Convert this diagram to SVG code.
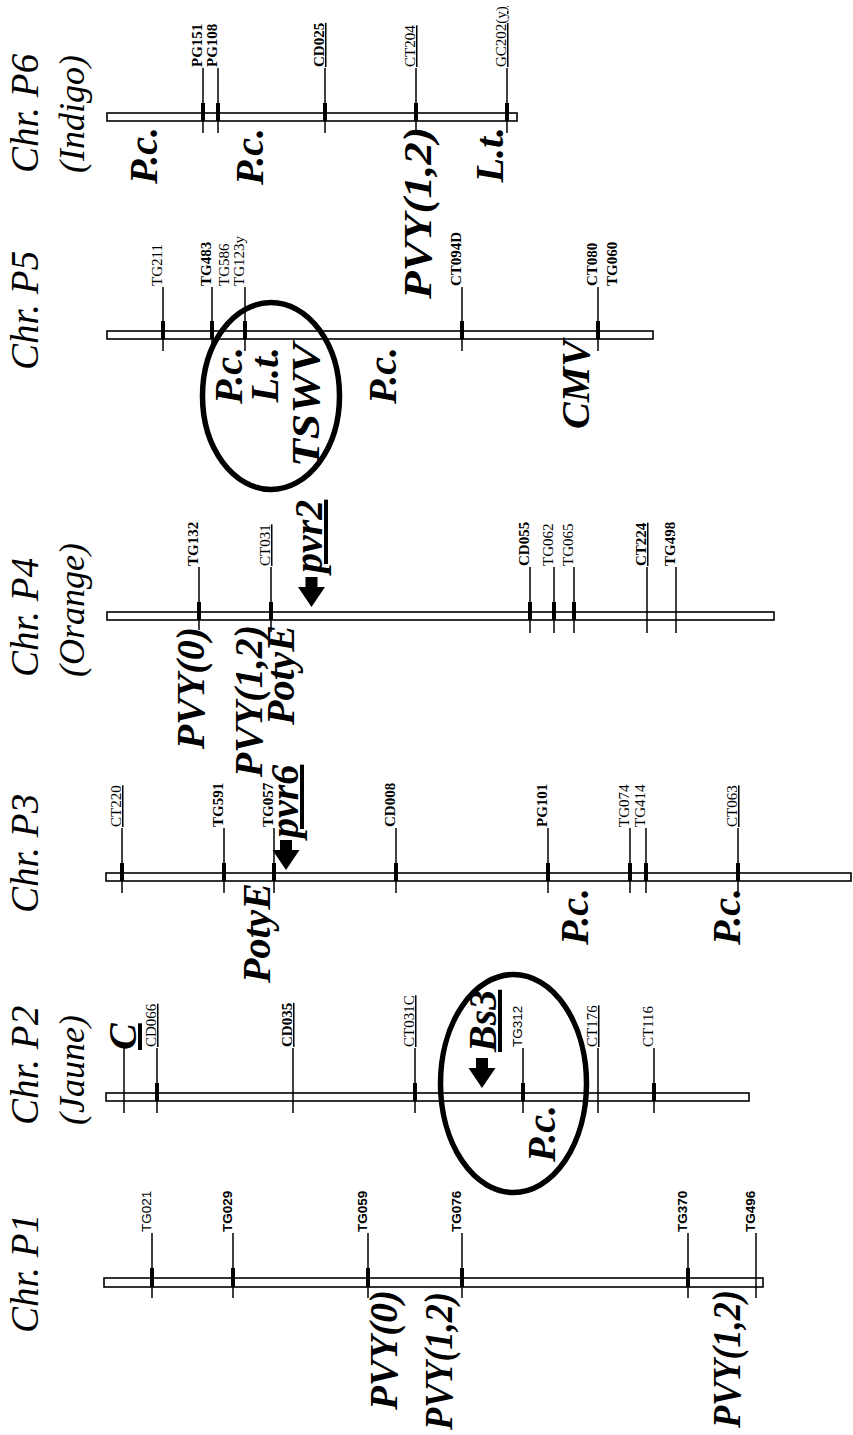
<svg xmlns="http://www.w3.org/2000/svg" width="853" height="1435" viewBox="0 0 853 1435">
<style>
.bar{fill:#fff;stroke:#000;stroke-width:1.6}
.tk{stroke:#000;stroke-width:1.5;fill:none}
.th{stroke:#000;stroke-width:4;fill:none}
.ml{font-family:"Liberation Serif",serif;font-size:15px;fill:#000}
.sn{font-family:"Liberation Sans",sans-serif;font-size:13.5px;fill:#000}
.b{font-weight:bold}
.u{text-decoration:underline}
.ttl{font-family:"Liberation Serif",serif;font-style:italic;font-size:39px;fill:#000}
.ttl2{font-family:"Liberation Serif",serif;font-style:italic;font-size:36px;fill:#000}
.dz{font-family:"Liberation Serif",serif;font-style:italic;font-weight:bold;font-size:40px;fill:#000}
.ell{fill:none;stroke:#000;stroke-width:5.5}
</style>
<defs>
<path id="arr" d="M-6,-30 H6 V-20 H13.5 L0,0 L-13.5,-20 H-6 Z" fill="#000"/>
</defs>
<rect width="853" height="1435" fill="#fff"/>

<!-- Chr P6 -->
<g id="chrP6">
<text class="ttl" transform="translate(38,173) rotate(-90)">Chr. P6</text>
<text class="ttl2" transform="translate(84,173) rotate(-90)">(Indigo)</text>
<rect class="bar" x="107" y="113" width="410" height="8"/>
<g id="p6-markers">
<line class="tk" x1="203" y1="68" x2="203" y2="133"/><line class="th" x1="203" y1="103" x2="203" y2="121"/>
<text class="ml b" transform="translate(202,67) rotate(-90)">PG151</text>
<line class="tk" x1="218" y1="68" x2="218" y2="133"/><line class="th" x1="218" y1="103" x2="218" y2="121"/>
<text class="ml b" transform="translate(217,67) rotate(-90)">PG108</text>
<line class="tk" x1="325" y1="68" x2="325" y2="133"/><line class="th" x1="325" y1="103" x2="325" y2="121"/>
<text class="ml b u" transform="translate(324,67) rotate(-90)">CD025</text>
<line class="tk" x1="416" y1="68" x2="416" y2="133"/><line class="th" x1="416" y1="103" x2="416" y2="121"/>
<text class="ml u" transform="translate(415,67) rotate(-90)">CT204</text>
<line class="tk" x1="507" y1="68" x2="507" y2="133"/><line class="th" x1="507" y1="103" x2="507" y2="121"/>
<text class="ml u" transform="translate(506,67) rotate(-90)">GC202(y)</text>
</g>
<text class="dz" text-anchor="end" transform="translate(157,127) rotate(-90)">P.c.</text>
<text class="dz" text-anchor="end" transform="translate(263,128) rotate(-90)">P.c.</text>
<text class="dz" text-anchor="end" font-size="42" textLength="172" lengthAdjust="spacingAndGlyphs" transform="translate(431,127) rotate(-90)">PVY(1,2)</text>
<text class="dz" text-anchor="end" transform="translate(503,127) rotate(-90)">L.t.</text>
</g>

<!-- Chr P5 -->
<g id="chrP5">
<text class="ttl" transform="translate(38,370) rotate(-90)">Chr. P5</text>
<rect class="bar" x="107" y="331" width="546" height="8"/>
<g id="p5-markers">
<line class="tk" x1="163" y1="287" x2="163" y2="351"/><line class="th" x1="163" y1="321" x2="163" y2="339"/>
<text class="ml" transform="translate(162,286) rotate(-90)">TG211</text>
<line class="tk" x1="212" y1="287" x2="212" y2="351"/><line class="th" x1="212" y1="321" x2="212" y2="339"/>
<text class="ml b" transform="translate(211,286) rotate(-90)">TG483</text>
<text class="ml" transform="translate(229,286) rotate(-90)">TG586</text>
<line class="tk" x1="245" y1="287" x2="245" y2="351"/><line class="th" x1="245" y1="321" x2="245" y2="339"/>
<text class="ml" transform="translate(244,286) rotate(-90)">TG123y</text>
<line class="tk" x1="462" y1="287" x2="462" y2="351"/><line class="th" x1="462" y1="321" x2="462" y2="339"/>
<text class="ml b" transform="translate(461,286) rotate(-90)">CT094D</text>
<line class="tk" x1="598" y1="287" x2="598" y2="351"/><line class="th" x1="598" y1="321" x2="598" y2="339"/>
<text class="ml b" transform="translate(597,286) rotate(-90)">CT080</text>
<text class="ml b" transform="translate(617,286) rotate(-90)">TG060</text>
</g>
<ellipse class="ell" cx="271" cy="396" rx="68.5" ry="93.5"/>
<text class="dz" text-anchor="end" transform="translate(242,347) rotate(-90)">P.c.</text>
<text class="dz" text-anchor="end" transform="translate(278,347) rotate(-90)">L.t.</text>
<text class="dz" text-anchor="end" font-size="50" textLength="124" lengthAdjust="spacingAndGlyphs" transform="translate(319,343) rotate(-90)">TSWV</text>
<text class="dz" text-anchor="end" transform="translate(396,347) rotate(-90)">P.c.</text>
<text class="dz" text-anchor="end" font-size="45" transform="translate(589,340) rotate(-90)">CMV</text>
</g>

<!-- Chr P4 -->
<g id="chrP4">
<text class="ttl" transform="translate(38,677) rotate(-90)">Chr. P4</text>
<text class="ttl2" transform="translate(84,677) rotate(-90)">(Orange)</text>
<rect class="bar" x="107" y="612" width="667" height="8"/>
<g id="p4-markers">
<line class="tk" x1="199" y1="567" x2="199" y2="630"/><line class="th" x1="199" y1="602" x2="199" y2="620"/>
<text class="ml b" transform="translate(198,566) rotate(-90)">TG132</text>
<line class="tk" x1="271" y1="567" x2="271" y2="632"/><line class="th" x1="271" y1="602" x2="271" y2="620"/>
<text class="ml u" transform="translate(270,566) rotate(-90)">CT031</text>
<line class="tk" x1="530" y1="567" x2="530" y2="633"/><line class="th" x1="530" y1="602" x2="530" y2="620"/>
<text class="ml b" transform="translate(529,566) rotate(-90)">CD055</text>
<line class="tk" x1="554" y1="567" x2="554" y2="633"/><line class="th" x1="554" y1="602" x2="554" y2="620"/>
<text class="ml" transform="translate(553,566) rotate(-90)">TG062</text>
<line class="tk" x1="574" y1="567" x2="574" y2="633"/><line class="th" x1="574" y1="602" x2="574" y2="620"/>
<text class="ml" transform="translate(573,566) rotate(-90)">TG065</text>
<line class="tk" x1="647" y1="567" x2="647" y2="633"/>
<text class="ml b u" transform="translate(646,566) rotate(-90)">CT224</text>
<line class="tk" x1="676" y1="567" x2="676" y2="633"/>
<text class="ml b" transform="translate(675,566) rotate(-90)">TG498</text>
</g>
<text class="dz" text-anchor="end" font-size="42" transform="translate(204,627) rotate(-90)">PVY(0)</text>
<text class="dz" text-anchor="end" font-size="42" transform="translate(262,625) rotate(-90)">PVY(1,2)</text>
<text class="dz" text-anchor="end" font-size="42" transform="translate(294,625) rotate(-90)">PotyE</text>
<use href="#arr" x="311.5" y="607"/>
<text class="dz u" transform="translate(322,573) rotate(-90)">pvr2</text>
</g>

<!-- Chr P3 -->
<g id="chrP3">
<text class="ttl" transform="translate(38,913) rotate(-90)">Chr. P3</text>
<rect class="bar" x="106" y="873" width="745" height="8"/>
<g id="p3-markers">
<line class="tk" x1="122" y1="828" x2="122" y2="893"/><line class="th" x1="122" y1="863" x2="122" y2="881"/>
<text class="ml u" transform="translate(121,827) rotate(-90)">CT220</text>
<line class="tk" x1="224" y1="828" x2="224" y2="893"/><line class="th" x1="224" y1="863" x2="224" y2="881"/>
<text class="ml b" transform="translate(223,827) rotate(-90)">TG591</text>
<line class="tk" x1="274" y1="828" x2="274" y2="893"/><line class="th" x1="274" y1="863" x2="274" y2="881"/>
<text class="ml b" transform="translate(273,827) rotate(-90)">TG057</text>
<line class="tk" x1="396" y1="828" x2="396" y2="893"/><line class="th" x1="396" y1="863" x2="396" y2="881"/>
<text class="ml b" transform="translate(395,827) rotate(-90)">CD008</text>
<line class="tk" x1="548" y1="828" x2="548" y2="893"/><line class="th" x1="548" y1="863" x2="548" y2="881"/>
<text class="ml b" transform="translate(547,827) rotate(-90)">PG101</text>
<line class="tk" x1="630" y1="828" x2="630" y2="893"/><line class="th" x1="630" y1="863" x2="630" y2="881"/>
<text class="ml" transform="translate(629,827) rotate(-90)">TG074</text>
<line class="tk" x1="646" y1="828" x2="646" y2="893"/><line class="th" x1="646" y1="863" x2="646" y2="881"/>
<text class="ml" transform="translate(645,827) rotate(-90)">TG414</text>
<line class="tk" x1="738" y1="828" x2="738" y2="893"/><line class="th" x1="738" y1="863" x2="738" y2="881"/>
<text class="ml u" transform="translate(737,827) rotate(-90)">CT063</text>
</g>
<text class="dz" text-anchor="end" transform="translate(270,883) rotate(-90)">PotyE</text>
<text class="dz" text-anchor="end" transform="translate(588,888) rotate(-90)">P.c.</text>
<text class="dz" text-anchor="end" transform="translate(740,888) rotate(-90)">P.c.</text>
<use href="#arr" x="286" y="870"/>
<text class="dz u" transform="translate(298,838) rotate(-90)">pvr6</text>
</g>

<!-- Chr P2 -->
<g id="chrP2">
<text class="ttl" transform="translate(38,1125) rotate(-90)">Chr. P2</text>
<text class="ttl2" transform="translate(84,1125) rotate(-90)">(Jaune)</text>
<rect class="bar" x="106" y="1093" width="643" height="8"/>
<g id="p2-markers">
<line class="tk" x1="124" y1="1048" x2="124" y2="1113"/>
<text class="dz u" font-size="34" transform="translate(136,1050) rotate(-90)">C</text>
<line class="tk" x1="157" y1="1048" x2="157" y2="1113"/><line class="th" x1="157" y1="1083" x2="157" y2="1101"/>
<text class="ml u" transform="translate(156,1047) rotate(-90)">CD066</text>
<line class="tk" x1="293" y1="1048" x2="293" y2="1113"/>
<text class="ml b u" transform="translate(292,1047) rotate(-90)">CD035</text>
<line class="tk" x1="415" y1="1048" x2="415" y2="1113"/><line class="th" x1="415" y1="1083" x2="415" y2="1101"/>
<text class="ml u" transform="translate(414,1047) rotate(-90)">CT031C</text>
<line class="tk" x1="523" y1="1048" x2="523" y2="1113"/><line class="th" x1="523" y1="1083" x2="523" y2="1101"/>
<text class="sn" transform="translate(522,1047) rotate(-90)">TG312</text>
<line class="tk" x1="598" y1="1048" x2="598" y2="1113"/>
<text class="ml u" transform="translate(597,1047) rotate(-90)">CT176</text>
<line class="tk" x1="654" y1="1048" x2="654" y2="1113"/><line class="th" x1="654" y1="1083" x2="654" y2="1101"/>
<text class="ml" transform="translate(653,1047) rotate(-90)">CT116</text>
</g>
<ellipse class="ell" cx="513.5" cy="1083.5" rx="73" ry="109"/>
<use href="#arr" x="482" y="1088"/>
<text class="dz u" font-size="36" transform="translate(496,1052) rotate(-90)">Bs3</text>
<text class="dz" text-anchor="end" transform="translate(555,1105) rotate(-90)">P.c.</text>
</g>

<!-- Chr P1 -->
<g id="chrP1">
<text class="ttl" transform="translate(38,1333) rotate(-90)">Chr. P1</text>
<rect class="bar" x="104" y="1278" width="659" height="9"/>
<g id="p1-markers">
<line class="tk" x1="152" y1="1233" x2="152" y2="1298"/><line class="th" x1="152" y1="1268" x2="152" y2="1287"/>
<text class="sn" transform="translate(151,1232) rotate(-90)">TG021</text>
<line class="tk" x1="233" y1="1233" x2="233" y2="1298"/><line class="th" x1="233" y1="1268" x2="233" y2="1287"/>
<text class="sn b" transform="translate(232,1232) rotate(-90)">TG029</text>
<line class="tk" x1="368" y1="1233" x2="368" y2="1298"/><line class="th" x1="368" y1="1268" x2="368" y2="1287"/>
<text class="sn b" transform="translate(367,1232) rotate(-90)">TG059</text>
<line class="tk" x1="462" y1="1233" x2="462" y2="1298"/><line class="th" x1="462" y1="1268" x2="462" y2="1287"/>
<text class="sn b" transform="translate(461,1232) rotate(-90)">TG076</text>
<line class="tk" x1="688" y1="1233" x2="688" y2="1298"/><line class="th" x1="688" y1="1268" x2="688" y2="1287"/>
<text class="sn b" transform="translate(687,1232) rotate(-90)">TG370</text>
<line class="tk" x1="756" y1="1233" x2="756" y2="1298"/>
<text class="sn b" transform="translate(755,1232) rotate(-90)">TG496</text>
</g>
<text class="dz" text-anchor="end" textLength="120" lengthAdjust="spacingAndGlyphs" transform="translate(397,1290) rotate(-90)">PVY(0)</text>
<text class="dz" text-anchor="end" textLength="138" lengthAdjust="spacingAndGlyphs" transform="translate(452,1292) rotate(-90)">PVY(1,2)</text>
<text class="dz" text-anchor="end" textLength="138" lengthAdjust="spacingAndGlyphs" transform="translate(740,1290) rotate(-90)">PVY(1,2)</text>
</g>
</svg>
